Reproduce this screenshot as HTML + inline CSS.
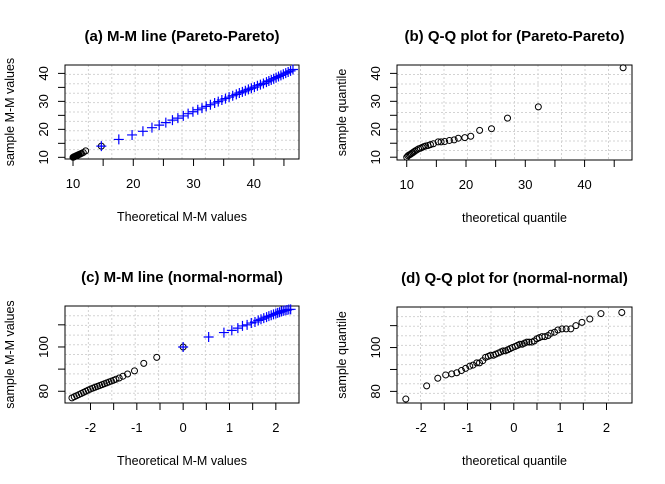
<!DOCTYPE html>
<html><head><meta charset="utf-8"><style>
body{margin:0;background:#fff}
svg{display:block;font-family:"Liberation Sans",Arial,sans-serif}
</style></head><body>
<svg id="c" width="665" height="484"></svg>
<script>
// (a) M-M Pareto
const aCircX=[10.0,10.1,10.2,10.3,10.4,10.5,10.6,10.7,10.8,10.9,11.0,11.2,11.4,11.7,12.1,14.7];
const aCircY=[10.0,10.1,10.2,10.3,10.4,10.5,10.6,10.7,10.8,10.9,11.0,11.2,11.4,11.7,12.3,14.0];
const aPlusX=[14.7,17.6,19.8,21.6,23.1,24.3,25.4,26.5,27.4,28.3,29.1,29.9,30.7,31.4,32.1,32.8,33.5,34.1,34.7,35.3,35.9,36.5,37.1,37.6,38.1,38.6,39.1,39.6,40.1,40.6,41.1,41.6,42.1,42.5,42.9,43.3,43.7,44.1,44.5,44.9,45.3,45.7,46.1,46.5];
const aPlusY=[14.0,16.4,18.0,19.3,20.6,21.5,22.4,23.3,24.0,24.8,25.6,26.3,27.0,27.6,28.2,28.8,29.4,29.9,30.5,31.0,31.5,32.0,32.5,33.0,33.4,33.8,34.3,34.7,35.1,35.6,36.0,36.4,36.9,37.3,37.7,38.1,38.5,38.9,39.3,39.7,40.1,40.5,40.9,41.4];
// (b) QQ Pareto
const bX=[10.0,10.2,10.4,10.6,10.8,11.0,11.2,11.4,11.7,12.0,12.3,12.6,12.9,13.2,13.6,14.0,14.5,15.3,15.8,16.4,17.2,18.0,18.7,19.8,20.8,22.3,24.3,27.0,32.2,46.5];
const bY=[10.0,10.5,10.8,11.0,11.3,11.6,11.9,12.2,12.6,13.0,13.2,13.5,13.8,14.0,14.2,14.5,14.8,15.5,15.5,15.6,16.0,16.2,16.8,17.0,17.5,19.6,20.2,24.0,28.0,42.0];
// (c) M-M normal
const cCircX=[-2.4,-2.35,-2.3,-2.25,-2.2,-2.15,-2.1,-2.05,-2.0,-1.95,-1.9,-1.85,-1.8,-1.75,-1.7,-1.65,-1.6,-1.55,-1.5,-1.45,-1.38,-1.3,-1.2,-1.05,-0.85,-0.57,0.0];
const cCircY=[77.0,77.5,78.0,78.5,79.0,79.5,80.0,80.5,81.0,81.4,81.8,82.2,82.6,83.0,83.4,83.8,84.2,84.6,85.0,85.4,86.0,86.8,87.8,89.2,92.6,95.3,100.0];
const cPlusX=[0.0,0.55,0.88,1.05,1.18,1.28,1.38,1.47,1.55,1.62,1.68,1.74,1.8,1.85,1.9,1.95,2.0,2.04,2.08,2.12,2.16,2.2,2.24,2.28,2.32];
const cPlusY=[100.0,104.5,106.5,107.5,108.5,109.5,110.0,110.8,111.3,112.0,112.5,113.0,113.5,113.9,114.3,114.7,115.1,115.4,115.7,116.0,116.3,116.5,116.7,116.9,117.0];
// (d) QQ normal
const dX=[-2.33,-1.88,-1.64,-1.47,-1.34,-1.23,-1.13,-1.04,-0.95,-0.88,-0.8,-0.74,-0.67,-0.61,-0.55,-0.5,-0.44,-0.39,-0.33,-0.28,-0.23,-0.18,-0.13,-0.08,-0.03,0.03,0.08,0.13,0.18,0.23,0.28,0.33,0.39,0.44,0.5,0.55,0.61,0.67,0.74,0.8,0.88,0.95,1.04,1.13,1.23,1.34,1.47,1.64,1.88,2.33];
const dY=[76.5,82.5,86,87.5,88,88.5,89.5,90.5,91.5,92,93,93,94,95.5,96,96.5,96.5,97,97.5,98,98.5,98.5,99,99.5,100,100.5,101,101.5,101.5,102,102.5,102.5,102.5,103,104,104.5,105,105,105.5,106.5,107,108,108.5,108.5,108.5,110,111.5,113,115.5,116];
const aTicks=[10,15,20,25,30,35,40,45], aLab=["10","","20","","30","","40",""];
const aYT=[10,15,20,25,30,35,40], aYL=["10","","20","","30","","40"];
const cTicks=[-2,-1.5,-1,-0.5,0,0.5,1,1.5,2], cLab=["-2","","-1","","0","","1","","2"];
const cYT=[80,90,100,110], cYL=["80","","100",""];

const svg=document.getElementById('c');
const NS='http://www.w3.org/2000/svg';
function mk(t,a,p){const e=document.createElementNS(NS,t);for(const k in a)e.setAttribute(k,a[k]);(p||svg).appendChild(e);return e;}
function panel(o){
  const g=mk('g',{});
  
  
  const {x0,x1,y0,y1,dx0,dx1,dy0,dy1}=o;
  const sx=v=>x0+(v-dx0)/(dx1-dx0)*(x1-x0);
  const sy=v=>y1-(v-dy0)/(dy1-dy0)*(y1-y0);
  for(let i=1;i<10;i++){
    const gx=x0+(x1-x0)*i/10, gy=y0+(y1-y0)*i/10;
    mk('line',{x1:gx,x2:gx,y1:y0,y2:y1,stroke:'#d3d3d3','stroke-dasharray':'2,2'},g);
    mk('line',{x1:x0,x2:x1,y1:gy,y2:gy,stroke:'#d3d3d3','stroke-dasharray':'2,2'},g);
  }
  const box=mk('rect',{x:x0,y:y0,width:x1-x0,height:y1-y0,fill:'none',stroke:'#000'},g);
  
  
  o.xt.forEach((t,i)=>{const X=sx(t);mk('line',{x1:X,x2:X,y1:y1,y2:y1+7,stroke:'#000'},g);
    if(o.xl[i]){const tx=mk('text',{x:X,y:y1+29,'text-anchor':'middle','font-size':13},g);tx.textContent=o.xl[i];
      }});
  o.yt.forEach((t,i)=>{const Y=sy(t);mk('line',{x1:x0-7,x2:x0,y1:Y,y2:Y,stroke:'#000'},g);
    if(o.yl[i]){const tx=mk('text',{x:0,y:0,'text-anchor':'middle','font-size':13,transform:`translate(${x0-17},${Y}) rotate(-90)`},g);tx.textContent=o.yl[i];
      }});
  const cx=(x0+x1)/2, cy=(y0+y1)/2;
  const tt=mk('text',{x:cx,y:y0-24,'text-anchor':'middle','font-size':15,'font-weight':'bold'},g);tt.textContent=o.title;
  
  const xl=mk('text',{x:cx,y:y1+62,'text-anchor':'middle','font-size':12.5},g);xl.textContent=o.xlab;
  
  const yl=mk('text',{x:0,y:0,'text-anchor':'middle','font-size':12.5,transform:`translate(${x0-51},${cy}) rotate(-90)`},g);yl.textContent=o.ylab;
  
  (o.circ||[]).forEach(([X,Y])=>X.forEach((v,i)=>{const p=mk('circle',{cx:sx(v),cy:sy(Y[i]),r:3,fill:'none',stroke:'#000'},g);
    }));
  (o.plus||[]).forEach(([X,Y])=>X.forEach((v,i)=>{const px=sx(v),py=sy(Y[i]);const p=mk('path',{d:`M${px-5},${py}H${px+5}M${px},${py-5}V${py+5}`,stroke:'#00f','stroke-width':1.2},g);
    }));
}
panel({name:'panel-a',x0:65,x1:299,y0:65,y1:159,dx0:8.67,dx1:47.5,dy0:9.4,dy1:43,xt:aTicks,xl:aLab,yt:aYT,yl:aYL,
  title:'(a) M-M line (Pareto-Pareto)',xlab:'Theoretical M-M values',ylab:'sample M-M values',circ:[[aCircX,aCircY]],plus:[[aPlusX,aPlusY]]});
panel({name:'panel-b',x0:397,x1:632,y0:65,y1:160,dx0:8.36,dx1:48.0,dy0:9.0,dy1:43,xt:aTicks,xl:aLab,yt:aYT,yl:aYL,
  title:'(b) Q-Q plot for (Pareto-Pareto)',xlab:'theoretical quantile',ylab:'sample quantile',circ:[[bX,bY]]});
panel({name:'panel-c',x0:65,x1:299,y0:306,y1:403,dx0:-2.55,dx1:2.5,dy0:74.7,dy1:118.5,xt:cTicks,xl:cLab,yt:cYT,yl:cYL,
  title:'(c) M-M line (normal-normal)',xlab:'Theoretical M-M values',ylab:'sample M-M values',circ:[[cCircX,cCircY]],plus:[[cPlusX,cPlusY]]});
panel({name:'panel-d',x0:397,x1:632,y0:307,y1:403,dx0:-2.52,dx1:2.55,dy0:74.7,dy1:118.5,xt:cTicks,xl:cLab,yt:cYT,yl:cYL,
  title:'(d) Q-Q plot for (normal-normal)',xlab:'theoretical quantile',ylab:'sample quantile',circ:[[dX,dY]]});
</script>
</body></html>
